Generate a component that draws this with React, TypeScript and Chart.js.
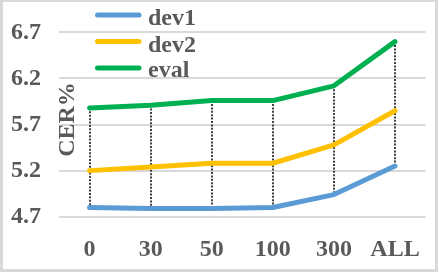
import React, { useEffect, useRef } from "react";
import { Chart, registerables } from "chart.js";

Chart.register(...registerables);

const categories = ["0", "30", "50", "100", "300", "ALL"];
const dev1 = [4.8, 4.79, 4.79, 4.8, 4.94, 5.25];
const dev2 = [5.2, 5.24, 5.28, 5.28, 5.48, 5.85];
const evalSet = [5.88, 5.91, 5.96, 5.96, 6.12, 6.6];
const seriesNames = ["dev1", "dev2", "eval"];
const seriesColors = ["#5B9BD5", "#FFC000", "#00B050"];
const yTitle = "CER%";

const FONT = "'Liberation Serif', 'Times New Roman', serif";
const TEXT = "#595959";

const dropLines = {
  id: "dropLines",
  beforeDatasetsDraw(chart: any) {
    const top = chart.getDatasetMeta(2).data;
    const bot = chart.getDatasetMeta(0).data;
    const ctx = chart.ctx;
    ctx.save();
    ctx.strokeStyle = "#404040";
    ctx.lineWidth = 2;
    ctx.setLineDash([2, 1.4]);
    for (let i = 0; i < top.length; i++) {
      const x = Math.round(top[i].x);
      ctx.beginPath();
      ctx.moveTo(x, top[i].y);
      ctx.lineTo(x, bot[i].y);
      ctx.stroke();
    }
    ctx.restore();
  },
};

const overlay = {
  id: "overlay",
  afterDraw(chart: any) {
    const ctx = chart.ctx;
    ctx.save();
    ctx.fillStyle = TEXT;
    ctx.font = `bold 24px ${FONT}`;
    ctx.translate(74, 119.5);
    ctx.rotate(-Math.PI / 2);
    ctx.textAlign = "center";
    ctx.textBaseline = "alphabetic";
    ctx.fillText(yTitle, 0, 0);
    ctx.restore();

    ctx.save();
    const lineYs = [15, 41.5, 68];
    const textYs = [25, 51.5, 77];
    seriesNames.forEach((name, i) => {
      ctx.strokeStyle = seriesColors[i];
      ctx.lineWidth = 5;
      ctx.lineCap = "round";
      ctx.beginPath();
      ctx.moveTo(97.5, lineYs[i]);
      ctx.lineTo(139, lineYs[i]);
      ctx.stroke();
      ctx.fillStyle = TEXT;
      ctx.font = `bold 24px ${FONT}`;
      ctx.textAlign = "left";
      ctx.textBaseline = "alphabetic";
      ctx.fillText(name, 148, textYs[i]);
    });
    ctx.restore();
  },
};

export default function App() {
  const ref = useRef<HTMLCanvasElement>(null);
  useEffect(() => {
    if (!ref.current) return;
    const mk = (label: string, data: number[], color: string) => ({
      label,
      data,
      borderColor: color,
      backgroundColor: color,
      borderWidth: 5,
      pointRadius: 0,
      borderCapStyle: "round" as const,
      borderJoinStyle: "round" as const,
      tension: 0,
    });
    const chart = new Chart(ref.current, {
      type: "line",
      data: {
        labels: categories,
        datasets: [
          mk(seriesNames[0], dev1, seriesColors[0]),
          mk(seriesNames[1], dev2, seriesColors[1]),
          mk(seriesNames[2], evalSet, seriesColors[2]),
        ],
      },
      options: {
        animation: false,
        responsive: false,
        devicePixelRatio: 1,
        layout: { autoPadding: false, padding: { left: 0, right: 4, top: 25.7, bottom: 0 } },
        plugins: { legend: { display: false }, tooltip: { enabled: false } },
        scales: {
          x: {
            offset: true,
            grid: { display: false, drawTicks: false },
            border: { display: false },
            ticks: {
              color: TEXT,
              font: { family: FONT, size: 24, weight: "bold" },
              padding: 19,
              maxRotation: 0,
              autoSkip: false,
            },
            afterFit(scale: any) {
              scale.height = 57.3;
            },
          },
          y: {
            min: 4.7,
            max: 6.7,
            grid: { color: "#D9D9D9", lineWidth: 2, drawTicks: false },
            border: { display: false },
            ticks: {
              stepSize: 0.5,
              color: TEXT,
              font: { family: FONT, size: 24, weight: "bold" },
              padding: 18,
              callback: (v: any) => Number(v).toFixed(1),
            },
            afterFit(scale: any) {
              scale.width = 59;
            },
          },
        },
      },
      plugins: [dropLines, overlay],
    });
    return () => chart.destroy();
  }, []);
  return (
    <div style={{ position: "fixed", left: 0, top: 0, width: 439, height: 274, background: "#fff" }}>
      <canvas ref={ref} width={439} height={274} style={{ position: "absolute", left: 0, top: 0 }} />
      <div
        style={{
          position: "absolute",
          left: 0,
          top: 0,
          width: 438,
          height: 272,
          boxSizing: "border-box",
          borderLeft: "3px solid #D9D9D9",
          borderTop: "2px solid #D9D9D9",
          borderRight: "3px solid #D9D9D9",
          borderBottom: "3px solid #D9D9D9",
          pointerEvents: "none",
        }}
      />
    </div>
  );
}
